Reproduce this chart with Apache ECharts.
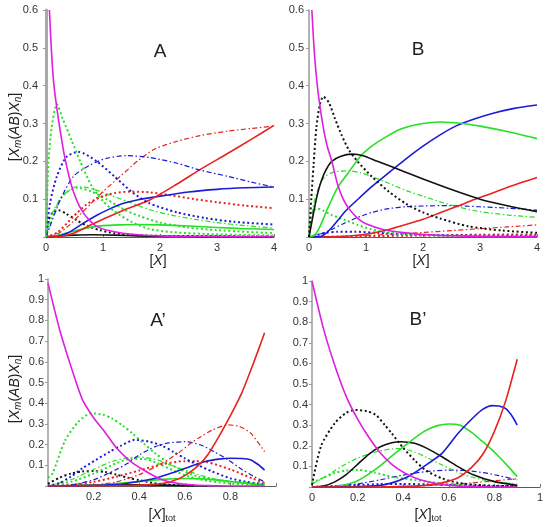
<!DOCTYPE html>
<html><head><meta charset="utf-8">
<script src="https://cdn.jsdelivr.net/npm/echarts@6/dist/echarts.min.js"></script>
<style>html,body{margin:0;padding:0;background:#fff}#c{width:550px;height:527px}</style>
</head><body><div id="c"></div>
<script>
// ---------- tick labels ----------
const topXTicks = [0, 1, 2, 3, 4];
const topYTicks = [0.1, 0.2, 0.3, 0.4, 0.5, 0.6];
const botXTicksA = [0.2, 0.4, 0.6, 0.8];
const botXTicksB = [0, 0.2, 0.4, 0.6, 0.8, 1];
const botYTicks = [0.1, 0.2, 0.3, 0.4, 0.5, 0.6, 0.7, 0.8, 0.9, 1];
const panelTitles = ['A', 'B', 'A\u2019', 'B\u2019'];

// ---------- Panel A ([X] 0..4) ----------
const A_mag_x = [0.06,0.1,0.14,0.2,0.25,0.33,0.47,0.65,0.89,1.35,2,3,4];
const A_mag_y = [0.6,0.48,0.4,0.33,0.28,0.21,0.125,0.065,0.028,0.01,0.003,0.001,0.0005];
const A_grnDot_x = [0,0.04,0.1,0.19,0.3,0.45,0.6,0.8,1.0,1.2,1.5,1.8,2.2,3,4];
const A_grnDot_y = [0,0.19,0.29,0.351,0.31,0.255,0.2,0.135,0.095,0.068,0.04,0.022,0.013,0.007,0.004];
const A_bluDot_x = [0,0.07,0.19,0.36,0.57,0.89,1.2,1.5,1.8,2.3,2.8,3.3,4];
const A_bluDot_y = [0,0.089,0.16,0.212,0.225,0.2,0.16,0.12,0.09,0.065,0.05,0.04,0.033];
const A_bluDD_x = [0,0.1,0.25,0.48,0.77,1.06,1.42,1.82,2.3,2.7,3.2,3.6,4];
const A_bluDD_y = [0,0.04,0.098,0.16,0.19,0.208,0.215,0.21,0.195,0.177,0.16,0.145,0.132];
const A_redDD_x = [0,0.2,0.4,0.6,0.8,1.0,1.3,1.6,1.9,2.3,2.7,3.2,3.6,4];
const A_redDD_y = [0,0.008,0.03,0.06,0.09,0.12,0.16,0.2,0.232,0.253,0.268,0.28,0.287,0.293];
const A_redSol_x = [0,0.2,0.4,0.6,0.8,1.0,1.36,1.82,2.3,2.7,3.2,3.6,4];
const A_redSol_y = [0,0.001,0.006,0.018,0.033,0.047,0.071,0.098,0.14,0.178,0.222,0.258,0.295];
const A_bluSol_x = [0,0.2,0.4,0.65,0.9,1.1,1.36,1.6,2,2.5,3,3.5,4];
const A_bluSol_y = [0,0.002,0.012,0.036,0.058,0.073,0.089,0.098,0.108,0.119,0.126,0.13,0.132];
const A_redDot_x = [0,0.2,0.48,0.7,0.95,1.2,1.5,1.82,2.2,2.6,3,3.5,4];
const A_redDot_y = [0,0.012,0.054,0.085,0.105,0.116,0.12,0.118,0.11,0.1,0.092,0.083,0.076];
const A_grnDD_x = [0,0.1,0.3,0.55,0.8,1.1,1.5,1.82,2.2,2.6,3,3.5,4];
const A_grnDD_y = [0,0.06,0.11,0.133,0.128,0.112,0.09,0.072,0.058,0.047,0.038,0.03,0.024];
const A_grnDot2_x = [0,0.1,0.3,0.55,0.8,1.06,1.4,1.65,2,2.5,3,4];
const A_grnDot2_y = [0,0.05,0.11,0.13,0.12,0.1,0.07,0.055,0.038,0.025,0.018,0.01];
const A_grnSol_x = [0,0.2,0.4,0.6,0.8,1.0,1.3,1.6,2,2.5,3,3.5,4];
const A_grnSol_y = [0,0.004,0.012,0.02,0.026,0.03,0.032,0.033,0.032,0.029,0.025,0.022,0.02];
const A_blkDot_x = [0,0.05,0.12,0.22,0.35,0.54,0.75,0.95,1.2,1.6,2,3,4];
const A_blkDot_y = [0,0.045,0.065,0.071,0.062,0.044,0.028,0.018,0.01,0.005,0.003,0.002,0.001];
const A_blkSol_x = [0,0.2,0.5,0.8,1.2,1.6,2,3,4];
const A_blkSol_y = [0,0.003,0.005,0.006,0.005,0.003,0.002,0.001,0.0005];

// ---------- Panel B ([X] 0..4) ----------
const B_mag_x = [0.05,0.08,0.12,0.17,0.25,0.32,0.4,0.5,0.6,0.7,0.85,1.0,1.3,1.7,2.2,3,4];
const B_mag_y = [0.6,0.52,0.44,0.37,0.29,0.24,0.2,0.14,0.1,0.075,0.05,0.035,0.02,0.011,0.005,0.002,0.001];
const B_blkDot_x = [0,0.04,0.08,0.13,0.19,0.25,0.35,0.45,0.57,0.7,0.85,1.1,1.4,1.7,2,2.3,2.8,3.4,4];
const B_blkDot_y = [0,0.1,0.19,0.29,0.35,0.371,0.355,0.315,0.27,0.23,0.2,0.16,0.12,0.088,0.065,0.049,0.028,0.017,0.011];
const B_blkSol_x = [0,0.05,0.1,0.16,0.22,0.3,0.4,0.55,0.75,0.95,1.2,1.5,1.8,2.2,2.6,3,3.5,4];
const B_blkSol_y = [0,0.04,0.08,0.12,0.15,0.178,0.2,0.213,0.219,0.215,0.2,0.183,0.165,0.142,0.12,0.1,0.082,0.067];
const B_grnSol_x = [0,0.1,0.2,0.34,0.5,0.69,0.9,1.1,1.3,1.6,2,2.3,2.7,3,3.5,4];
const B_grnSol_y = [0,0.005,0.03,0.08,0.13,0.17,0.213,0.24,0.26,0.285,0.3,0.304,0.3,0.293,0.278,0.26];
const B_bluSol_x = [0,0.2,0.3,0.4,0.51,0.65,0.81,1.1,1.4,1.68,2,2.3,2.6,2.9,3.2,3.6,4];
const B_bluSol_y = [0,0.001,0.01,0.025,0.045,0.07,0.093,0.133,0.17,0.204,0.24,0.27,0.295,0.312,0.326,0.34,0.349];
const B_redSol_x = [0,0.5,0.8,1.1,1.4,1.7,2,2.3,2.6,2.9,3.2,3.5,4];
const B_redSol_y = [0,0.001,0.004,0.01,0.02,0.033,0.047,0.064,0.081,0.099,0.115,0.132,0.157];
const B_grnDD_x = [0,0.05,0.1,0.18,0.28,0.45,0.7,0.9,1.1,1.4,1.7,2,2.3,2.6,3,3.5,4];
const B_grnDD_y = [0,0.06,0.098,0.135,0.16,0.172,0.175,0.17,0.16,0.142,0.123,0.108,0.093,0.08,0.067,0.058,0.052];
const B_grnDot_x = [0,0.04,0.08,0.15,0.25,0.4,0.63,0.85,1.1,1.4,1.7,2.5,4];
const B_grnDot_y = [0,0.05,0.07,0.075,0.07,0.058,0.045,0.032,0.02,0.012,0.007,0.003,0.002];
const B_bluDD_x = [0,0.2,0.4,0.6,0.81,1.1,1.4,1.7,2,2.5,3,3.5,4];
const B_bluDD_y = [0,0.008,0.02,0.035,0.049,0.065,0.075,0.08,0.082,0.083,0.08,0.076,0.071];
const B_bluDot_x = [0,0.15,0.3,0.5,0.8,1.2,1.7,2.5,4];
const B_bluDot_y = [0,0.006,0.011,0.014,0.014,0.011,0.007,0.004,0.003];
const B_redDD_x = [0,0.5,1,1.5,2,2.5,3,3.5,4];
const B_redDD_y = [0,0.001,0.004,0.008,0.012,0.017,0.022,0.027,0.032];
const B_redDot_x = [0,1,2,3,4];
const B_redDot_y = [0,0.002,0.004,0.006,0.007];

// ---------- Panel A' ([X]tot) ----------
const Ap_mag_x = [0,0.05,0.1,0.15,0.2,0.25,0.3,0.35,0.4,0.5,0.6,0.7,0.8,0.95];
const Ap_mag_y = [0.98,0.76,0.58,0.42,0.33,0.26,0.185,0.13,0.09,0.03,0.008,0.002,0,0];
const Ap_redSol_x = [0,0.2,0.3,0.4,0.5,0.55,0.6,0.66,0.7,0.75,0.8,0.85,0.9,0.95];
const Ap_redSol_y = [0,0,0.001,0.004,0.012,0.025,0.05,0.1,0.15,0.24,0.34,0.45,0.59,0.74];
const Ap_redDD_x = [0,0.2,0.3,0.4,0.5,0.57,0.63,0.67,0.72,0.79,0.84,0.89,0.95];
const Ap_redDD_y = [0,0.005,0.02,0.055,0.11,0.158,0.21,0.238,0.27,0.295,0.288,0.254,0.166];
const Ap_redDot_x = [0,0.1,0.2,0.3,0.4,0.5,0.6,0.65,0.7,0.8,0.9,0.95];
const Ap_redDot_y = [0,0.005,0.02,0.045,0.075,0.105,0.12,0.12,0.115,0.08,0.035,0.015];
const Ap_bluSol_x = [0,0.2,0.3,0.4,0.47,0.55,0.6,0.69,0.75,0.8,0.85,0.89,0.92,0.95];
const Ap_bluSol_y = [0,0.002,0.007,0.022,0.037,0.065,0.085,0.118,0.13,0.134,0.133,0.126,0.105,0.077];
const Ap_bluDot_x = [0,0.05,0.1,0.15,0.21,0.27,0.32,0.38,0.44,0.5,0.55,0.6,0.66,0.72,0.8,0.87,0.95];
const Ap_bluDot_y = [0,0.015,0.045,0.085,0.126,0.165,0.195,0.223,0.215,0.195,0.165,0.134,0.1,0.07,0.037,0.02,0.01];
const Ap_bluDD_x = [0,0.1,0.2,0.3,0.35,0.4,0.47,0.53,0.6,0.67,0.73,0.79,0.85,0.9,0.95];
const Ap_bluDD_y = [0,0.005,0.03,0.08,0.11,0.15,0.19,0.208,0.214,0.198,0.165,0.126,0.08,0.048,0.02];
const Ap_grnDot_x = [0,0.02,0.075,0.133,0.19,0.24,0.28,0.33,0.37,0.42,0.47,0.52,0.57,0.66,0.8,0.95];
const Ap_grnDot_y = [0.04,0.061,0.22,0.31,0.351,0.345,0.327,0.29,0.254,0.205,0.158,0.118,0.085,0.045,0.021,0.01];
const Ap_grnDD_x = [0,0.1,0.2,0.28,0.34,0.4,0.48,0.54,0.6,0.66,0.72,0.8,0.95];
const Ap_grnDD_y = [0,0.03,0.08,0.118,0.135,0.14,0.126,0.1,0.077,0.055,0.037,0.022,0.008];
const Ap_grnDot2_x = [0,0.1,0.2,0.3,0.36,0.42,0.48,0.55,0.62,0.7,0.8,0.95];
const Ap_grnDot2_y = [0,0.02,0.06,0.11,0.13,0.13,0.11,0.075,0.045,0.025,0.012,0.004];
const Ap_grnSol_x = [0,0.2,0.3,0.4,0.5,0.6,0.7,0.8,0.9,0.95];
const Ap_grnSol_y = [0,0.005,0.012,0.022,0.032,0.036,0.033,0.022,0.009,0.004];
const Ap_blkDot_x = [0,0.05,0.1,0.15,0.2,0.25,0.3,0.35,0.4,0.47,0.55,0.65];
const Ap_blkDot_y = [0.01,0.04,0.06,0.07,0.072,0.068,0.055,0.04,0.028,0.013,0.005,0];
const Ap_blkSol_x = [0,0.2,0.35,0.5,0.6,0.7];
const Ap_blkSol_y = [0,0.004,0.006,0.004,0.002,0];

// ---------- Panel B' ([X]tot) ----------
const Bp_mag_x = [0,0.05,0.1,0.15,0.2,0.25,0.3,0.35,0.4,0.45,0.5,0.6,0.7,0.8,0.9];
const Bp_mag_y = [1.0,0.77,0.59,0.44,0.33,0.24,0.165,0.11,0.072,0.045,0.028,0.008,0.002,0,0];
const Bp_blkDot_x = [0,0.04,0.1,0.15,0.19,0.24,0.28,0.32,0.35,0.4,0.45,0.5,0.57,0.64,0.72,0.8,0.9];
const Bp_blkDot_y = [0.01,0.2,0.31,0.36,0.374,0.368,0.35,0.3,0.26,0.19,0.13,0.08,0.042,0.02,0.01,0.006,0.004];
const Bp_blkSol_x = [0,0.05,0.1,0.15,0.2,0.25,0.3,0.35,0.39,0.45,0.5,0.57,0.64,0.71,0.8,0.9];
const Bp_blkSol_y = [0,0.005,0.025,0.06,0.11,0.16,0.195,0.215,0.22,0.212,0.19,0.147,0.099,0.058,0.026,0.008];
const Bp_grnSol_x = [0,0.1,0.15,0.2,0.275,0.35,0.42,0.49,0.55,0.6,0.65,0.7,0.74,0.78,0.82,0.86,0.9];
const Bp_grnSol_y = [0,0.003,0.012,0.03,0.083,0.15,0.212,0.269,0.298,0.306,0.3,0.265,0.228,0.19,0.147,0.1,0.05];
const Bp_bluSol_x = [0,0.2,0.3,0.35,0.42,0.49,0.57,0.64,0.71,0.75,0.79,0.82,0.85,0.88,0.9];
const Bp_bluSol_y = [0,0.002,0.008,0.02,0.05,0.099,0.163,0.26,0.34,0.378,0.395,0.393,0.38,0.34,0.3];
const Bp_redSol_x = [0,0.3,0.4,0.5,0.57,0.64,0.7,0.75,0.8,0.85,0.9];
const Bp_redSol_y = [0,0,0.003,0.008,0.02,0.045,0.095,0.16,0.27,0.42,0.62];
const Bp_grnDD_x = [0,0.05,0.13,0.2,0.28,0.35,0.39,0.45,0.5,0.57,0.67,0.75,0.8,0.9];
const Bp_grnDD_y = [0.015,0.045,0.1,0.14,0.17,0.185,0.186,0.17,0.145,0.107,0.058,0.035,0.026,0.014];
const Bp_grnDot_x = [0,0.05,0.1,0.15,0.2,0.275,0.35,0.45,0.57,0.71,0.9];
const Bp_grnDot_y = [0.02,0.045,0.068,0.08,0.083,0.07,0.05,0.034,0.018,0.008,0.003];
const Bp_bluDD_x = [0,0.1,0.2,0.3,0.4,0.5,0.6,0.67,0.75,0.82,0.9];
const Bp_bluDD_y = [0,0.005,0.015,0.035,0.058,0.075,0.082,0.08,0.07,0.055,0.034];
const Bp_bluDot_x = [0,0.1,0.2,0.3,0.4,0.5,0.6,0.7,0.8,0.9];
const Bp_bluDot_y = [0,0.005,0.01,0.014,0.015,0.013,0.01,0.007,0.005,0.005];
const Bp_redDD_x = [0,0.4,0.5,0.6,0.7,0.8,0.9];
const Bp_redDD_y = [0,0.002,0.006,0.012,0.02,0.03,0.04];

// ---------- styles (kept apart from the data) ----------
const COL = {mag:'#e01ee0', red:'#e8231f', blu:'#1b1bd8', grn:'#25e025', blk:'#111111'};
const STY = {
  sol: {type:'solid', width:1.6},
  dot: {type:[2,2.6], width:2},
  dd:  {type:[5,2.5,1.5,2.5], width:1.2},
};
function S(grid, xs, ys, color, sty, z){
  return {type:'line', xAxisIndex:grid, yAxisIndex:grid, showSymbol:false, symbol:'none',
    smooth:0.25, z:z||2, silent:true,
    lineStyle:Object.assign({color:color, cap:'butt', join:'round'}, STY[sty]),
    data: xs.map((x,i)=>[x, ys[i]])};
}
const series = [
  S(0,A_blkSol_x,A_blkSol_y,COL.blk,'sol'),
  S(0,A_blkDot_x,A_blkDot_y,COL.blk,'dot'),
  S(0,A_grnSol_x,A_grnSol_y,COL.grn,'sol'),
  S(0,A_grnDot2_x,A_grnDot2_y,COL.grn,'dot'),
  S(0,A_grnDD_x,A_grnDD_y,COL.grn,'dd'),
  S(0,A_redDot_x,A_redDot_y,COL.red,'dot'),
  S(0,A_bluSol_x,A_bluSol_y,COL.blu,'sol'),
  S(0,A_redSol_x,A_redSol_y,COL.red,'sol'),
  S(0,A_redDD_x,A_redDD_y,COL.red,'dd'),
  S(0,A_bluDD_x,A_bluDD_y,COL.blu,'dd'),
  S(0,A_bluDot_x,A_bluDot_y,COL.blu,'dot'),
  S(0,A_grnDot_x,A_grnDot_y,COL.grn,'dot'),
  S(0,A_mag_x,A_mag_y,COL.mag,'sol',3),

  S(1,B_redDot_x,B_redDot_y,COL.red,'dot'),
  S(1,B_redDD_x,B_redDD_y,COL.red,'dd'),
  S(1,B_bluDot_x,B_bluDot_y,COL.blu,'dot'),
  S(1,B_bluDD_x,B_bluDD_y,COL.blu,'dd'),
  S(1,B_grnDot_x,B_grnDot_y,COL.grn,'dot'),
  S(1,B_grnDD_x,B_grnDD_y,COL.grn,'dd'),
  S(1,B_redSol_x,B_redSol_y,COL.red,'sol'),
  S(1,B_bluSol_x,B_bluSol_y,COL.blu,'sol'),
  S(1,B_grnSol_x,B_grnSol_y,COL.grn,'sol'),
  S(1,B_blkDot_x,B_blkDot_y,COL.blk,'dot'),
  S(1,B_blkSol_x,B_blkSol_y,COL.blk,'sol'),
  S(1,B_mag_x,B_mag_y,COL.mag,'sol',3),

  S(2,Ap_blkSol_x,Ap_blkSol_y,COL.blk,'sol'),
  S(2,Ap_blkDot_x,Ap_blkDot_y,COL.blk,'dot'),
  S(2,Ap_grnSol_x,Ap_grnSol_y,COL.grn,'sol'),
  S(2,Ap_grnDot2_x,Ap_grnDot2_y,COL.grn,'dot'),
  S(2,Ap_grnDD_x,Ap_grnDD_y,COL.grn,'dd'),
  S(2,Ap_redDot_x,Ap_redDot_y,COL.red,'dot'),
  S(2,Ap_bluDD_x,Ap_bluDD_y,COL.blu,'dd'),
  S(2,Ap_bluDot_x,Ap_bluDot_y,COL.blu,'dot'),
  S(2,Ap_grnDot_x,Ap_grnDot_y,COL.grn,'dot'),
  S(2,Ap_redDD_x,Ap_redDD_y,COL.red,'dd'),
  S(2,Ap_bluSol_x,Ap_bluSol_y,COL.blu,'sol'),
  S(2,Ap_redSol_x,Ap_redSol_y,COL.red,'sol'),
  S(2,Ap_mag_x,Ap_mag_y,COL.mag,'sol',3),

  S(3,Bp_redDD_x,Bp_redDD_y,COL.red,'dd'),
  S(3,Bp_bluDot_x,Bp_bluDot_y,COL.blu,'dot'),
  S(3,Bp_bluDD_x,Bp_bluDD_y,COL.blu,'dd'),
  S(3,Bp_grnDot_x,Bp_grnDot_y,COL.grn,'dot'),
  S(3,Bp_grnDD_x,Bp_grnDD_y,COL.grn,'dd'),
  S(3,Bp_blkDot_x,Bp_blkDot_y,COL.blk,'dot'),
  S(3,Bp_blkSol_x,Bp_blkSol_y,COL.blk,'sol'),
  S(3,Bp_grnSol_x,Bp_grnSol_y,COL.grn,'sol'),
  S(3,Bp_bluSol_x,Bp_bluSol_y,COL.blu,'sol'),
  S(3,Bp_redSol_x,Bp_redSol_y,COL.red,'sol'),
  S(3,Bp_mag_x,Bp_mag_y,COL.mag,'sol',3),
];

const FONT = '"Liberation Sans", Arial, sans-serif';
function near(v, list){ return list.some(t => Math.abs(t - v) < 1e-6); }
function fmt(v){ return String(Math.round(v*10)/10); }
function xAx(gi, max, interval, shown){
  return {type:'value', gridIndex:gi, min:0, max:max, interval:interval,
    axisLine:{show:true, onZero:false, lineStyle:{color:'#5a5a5a', width:1}},
    axisTick:{show:true, inside:true, length:3, lineStyle:{color:'#777'}},
    axisLabel:{margin:5, fontSize:11, color:'#333', fontFamily:FONT,
      formatter:v => near(v, shown) ? fmt(v) : ''},
    splitLine:{show:false}};
}
function yAx(gi, max, shown, lineCol, lineW, margin){
  return {type:'value', gridIndex:gi, min:0, max:max, interval:0.1,
    axisLine:{show:true, onZero:false, lineStyle:{color:lineCol, width:lineW}},
    axisTick:{show:true, length:3, lineStyle:{color:'#999'}},
    axisLabel:{margin:margin, fontSize:11, color:'#333', fontFamily:FONT,
      formatter:v => near(v, shown) ? fmt(v) : ''},
    splitLine:{show:false}};
}

const yRich = {
  n:{fontSize:14, fontFamily:FONT, fill:'#222', color:'#222'},
  i:{fontSize:14, fontFamily:FONT, fontStyle:'italic', fill:'#222', color:'#222'},
  s:{fontSize:10, fontFamily:FONT, fontStyle:'italic', fill:'#222', color:'#222', padding:[7,0,0,0]},
  t:{fontSize:9, fontFamily:FONT, fill:'#222', color:'#222', padding:[7,0,0,0]}
};
const yLabelText = '{n|[}{i|X}{s|m}{n|(}{i|AB}{n|)}{i|X}{s|n}{n|]}';
const xLabelTop = '{n|[}{i|X}{n|]}';
const xLabelBot = '{n|[}{i|X}{n|]}{t|tot}';
function txt(x, y, text, size, rot){
  return {type:'text', x:x, y:y, rotation:rot||0, silent:true,
    style:{text:text, fontSize:size, fontFamily:FONT, fill:'#222', align:'center', verticalAlign:'middle', rich:yRich}};
}

const chart = echarts.init(document.getElementById('c'), null, {renderer:'canvas'});
chart.setOption({
  animation:false,
  backgroundColor:'#fff',
  grid:[
    {left:46, top:10, width:228, height:227},
    {left:309, top:10, width:228, height:227},
    {left:48, top:279, width:228, height:207},
    {left:312, top:281, width:228, height:206}
  ],
  xAxis:[
    xAx(0, 4, 1, topXTicks),
    xAx(1, 4, 1, topXTicks),
    xAx(2, 1, 0.2, botXTicksA),
    xAx(3, 1, 0.2, botXTicksB)
  ],
  yAxis:[
    yAx(0, 0.6, topYTicks, '#a8a8a8', 3, 8),
    yAx(1, 0.6, topYTicks, '#9a9a9a', 1.5, 5),
    yAx(2, 1, botYTicks, '#9a9a9a', 1.5, 4),
    yAx(3, 1, botYTicks, '#9a9a9a', 1.5, 4)
  ],
  series: series,
  graphic:[
    txt(160, 52, panelTitles[0], 19),
    txt(418, 50, panelTitles[1], 19),
    txt(158, 321, panelTitles[2], 19),
    txt(418, 320, panelTitles[3], 19),
    txt(15, 127, yLabelText, 14, Math.PI/2),
    txt(15, 389, yLabelText, 14, Math.PI/2),
    txt(158, 261, xLabelTop, 14),
    txt(421, 261, xLabelTop, 14),
    txt(162, 515, xLabelBot, 14),
    txt(428, 515, xLabelBot, 14)
  ]
});
</script>
</body></html>
